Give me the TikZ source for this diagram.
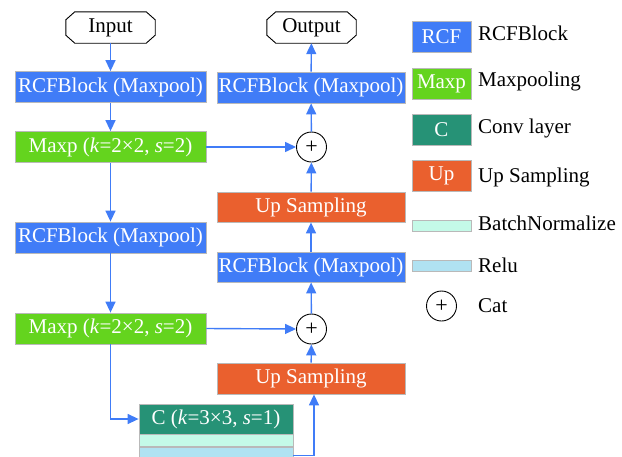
\documentclass[tikz,border=0pt]{standalone}
\usepackage{fontspec}
\setmainfont{Liberation Serif}
\usetikzlibrary{arrows.meta}

\definecolor{rcfblue}{RGB}{64,124,247}
\definecolor{maxgreen}{RGB}{100,212,30}
\definecolor{convteal}{RGB}{38,146,118}
\definecolor{uporange}{RGB}{234,96,46}
\definecolor{bnmint}{RGB}{196,250,232}
\definecolor{relublue}{RGB}{176,226,242}
\definecolor{boxline}{RGB}{185,185,185}
\definecolor{flowblue}{RGB}{64,124,247}

\newcommand\labfont{\fontsize{21}{24}\selectfont}

\tikzset{
  box/.style={draw=boxline, line width=0.8pt, inner sep=0pt, text=white,
    font=\labfont, minimum height=31pt},
  rcfbox/.style={box, fill=rcfblue, minimum width=191pt},
  maxbox/.style={box, fill=maxgreen, minimum width=191pt},
  upbox/.style={box, fill=uporange, minimum width=188pt},
  convbox/.style={box, fill=convteal, minimum width=154pt, minimum height=30pt},
  strip/.style={draw=boxline, line width=0.8pt, inner sep=0pt, minimum width=154pt},
  keybox/.style={box, minimum width=59pt, minimum height=31pt},
  keystrip/.style={draw=boxline, line width=0.8pt, inner sep=0pt,
    minimum width=59pt, minimum height=11pt},
  keytext/.style={anchor=base west, inner sep=0pt, font=\labfont},
  terminal/.style={inner sep=0pt, minimum width=89pt, minimum height=31pt, font=\labfont},
  catnode/.style={circle, draw=black, line width=0.9pt, minimum size=30pt,
    inner sep=0pt, font=\fontsize{22}{22}\selectfont},
  flow/.style={draw=flowblue, line width=1.4pt,
    -{Triangle[length=11pt,width=10pt]}},
}

% octagonal outline around a terminal node
\newcommand\octa[1]{%
  \draw[line width=0.9pt]
    ([xshift=9pt]#1.north west) -- ([xshift=-9pt]#1.north east)
    -- ([yshift=-8pt]#1.north east) -- ([yshift=8pt]#1.south east)
    -- ([xshift=-9pt]#1.south east) -- ([xshift=9pt]#1.south west)
    -- ([yshift=8pt]#1.south west) -- ([yshift=-8pt]#1.north west) -- cycle;}

\begin{document}
\begin{tikzpicture}[x=1pt, y=-1pt]
  \useasboundingbox (0,0) rectangle (622,456);

  % encoder column
  \node[terminal] (in) at (110.5,27.5) {Input};
  \octa{in}
  \node[rcfbox] (rcfa) at (110.5,87) {RCFBlock (Maxpool)};
  \node[maxbox] (mpa) at (110.5,147) {Maxp (\textit{k}=2×2, \textit{s}=2)};
  \node[rcfbox] (rcfb) at (110.5,237.5) {RCFBlock (Maxpool)};
  \node[maxbox] (mpb) at (110.5,328.5) {Maxp (\textit{k}=2×2, \textit{s}=2)};

  % bottleneck convolution with its normalisation and activation layers
  \node[convbox] (conv) at (216,419) {C (\textit{k}=3×3, \textit{s}=1)};
  \node[strip, fill=bnmint, minimum height=12pt, anchor=north] (bn) at (conv.south) {};
  \node[strip, fill=relublue, minimum height=14pt, anchor=north] (relu) at (bn.south) {};

  % decoder column
  \node[upbox] (upa) at (311,378.5) {Up Sampling};
  \node[catnode] (cata) at (311.5,329) {+};
  \node[rcfbox, minimum width=188pt, minimum height=30pt] (rcfc) at (311,267) {RCFBlock (Maxpool)};
  \node[upbox, minimum height=30pt] (upb) at (311,207) {Up Sampling};
  \node[catnode] (catb) at (311.5,147) {+};
  \node[rcfbox, minimum width=188pt] (rcfd) at (311,87.5) {RCFBlock (Maxpool)};
  \node[terminal] (out) at (311.5,27.5) {Output};
  \octa{out}

  % flow
  \draw[flow] (in) -- (rcfa);
  \draw[flow] (rcfa) -- (mpa);
  \draw[flow] (mpa) -- (rcfb);
  \draw[flow] (rcfb) -- (mpb);
  \draw[flow] (mpa.east) -- (catb.west);
  \draw[flow] (mpb.east) -- (cata.west);
  \draw[flow] (mpb.south) |- (conv.west);
  \coordinate (reluout) at ([yshift=-1pt]relu.east);
  \draw[flow] (reluout) -| ([xshift=3pt]upa.south);
  \draw[flow] (upa) -- (cata);
  \draw[flow] (cata) -- (rcfc);
  \draw[flow] (rcfc) -- (upb);
  \draw[flow] (upb) -- (catb);
  \draw[flow] (catb) -- (rcfd);
  \draw[flow] (rcfd) -- (out);

  % key
  \node[keybox, fill=rcfblue] (krcf) at (441.5,37) {RCF};
  \node[keybox, fill=maxgreen] (kmax) at (441.5,83.5) {Maxp};
  \node[keybox, fill=convteal] (kconv) at (441.5,129.5) {C};
  \node[keybox, fill=uporange] (kup) at (441.5,175.5) {Up};
  \node[keystrip, fill=bnmint] (kbn) at (441.5,225.5) {};
  \node[keystrip, fill=relublue] (krelu) at (441.5,265.5) {};
  \node[catnode] (kcat) at (441.5,306) {+};

  \node[keytext] (lrcf) at (478,40) {RCFBlock};
  \node[keytext] (lmax) at (478,86) {Maxpooling};
  \node[keytext] (lconv) at (478,133) {Conv layer};
  \node[keytext] (lup) at (478,182) {Up Sampling};
  \node[keytext] (lbn) at (478,230) {BatchNormalize};
  \node[keytext] (lrelu) at (478,272) {Relu};
  \node[keytext] (lcat) at (478,312) {Cat};
\end{tikzpicture}
\end{document}
